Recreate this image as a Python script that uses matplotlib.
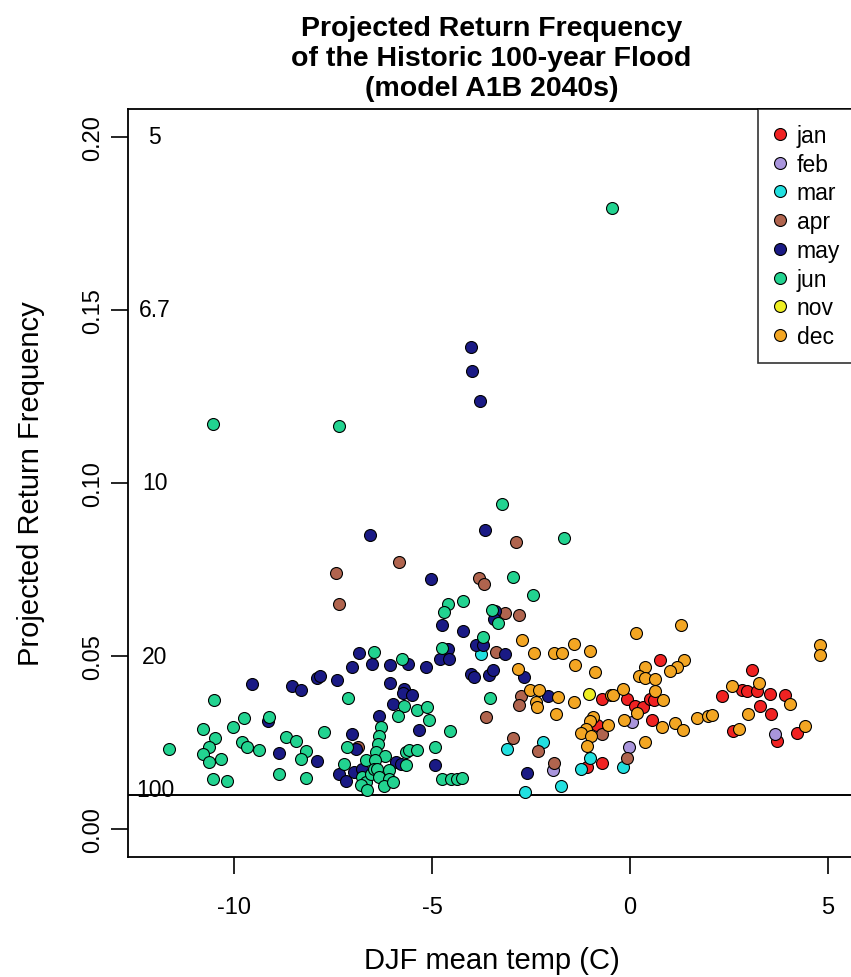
import matplotlib
matplotlib.use("Agg")
import matplotlib.pyplot as plt
from matplotlib.lines import Line2D

plt.rcParams['font.family'] = ['Liberation Sans', 'DejaVu Sans']

# DJF mean temperature (C) and projected return frequency, grouped by month of peak flow
jan_x = [0.76, -0.71, -0.07, 0.12, 0.33, 0.50, 0.61, 0.56, -0.83, -1.09, -0.71,
         2.31, 2.82, 2.94, 3.20, 3.09, 3.53, 3.91, 3.28, 3.56, 2.61, 3.70, 4.21]
jan_y = [0.0490, 0.0376, 0.0376, 0.0355, 0.0353, 0.0377, 0.0372, 0.0317, 0.0302, 0.0180, 0.0191,
         0.0384, 0.0401, 0.0399, 0.0399, 0.0460, 0.0391, 0.0388, 0.0355, 0.0334, 0.0283, 0.0254, 0.0279]

feb_x = [0.06, -0.03, -1.95, 3.66]
feb_y = [0.0311, 0.0239, 0.0172, 0.0276]

mar_x = [-3.76, -3.12, -2.21, -2.65, -1.74, -1.25, -1.00, -0.19]
mar_y = [0.0505, 0.0231, 0.0252, 0.0108, 0.0125, 0.0175, 0.0206, 0.0179]

apr_x = [-7.42, -7.35, -5.83, -2.88, -3.81, -3.68, -3.15, -2.81, -3.39, -2.75,
         -2.81, -3.64, -2.95, -2.33, -1.91, -0.07, -0.70, -6.86]
apr_y = [0.0741, 0.0651, 0.0771, 0.0831, 0.0726, 0.0709, 0.0624, 0.0618, 0.0512, 0.0384,
         0.0358, 0.0324, 0.0264, 0.0226, 0.0191, 0.0206, 0.0274, 0.0239]

may_x = [-4.02, -3.98, -3.79, -6.57, -3.66, -5.03, -3.40, -3.43, -4.76, -4.23,
         -3.90, -3.71, -4.61, -3.15, -4.80, -4.57, -4.01, -3.93, -3.57, -3.47,
         -2.69, -2.07, -6.85, -7.02, -6.52, -6.07, -5.60, -5.16, -9.55, -8.55,
         -8.31, -7.90, -7.84, -7.39, -6.06, -5.71, -5.73, -5.51, -6.00, -6.34,
         -9.15, -7.02, -6.93, -5.33, -8.87, -7.90, -4.92, -5.92, -5.79, -7.35,
         -7.18, -6.97, -6.76, -2.61]
may_y = [0.1394, 0.1324, 0.1236, 0.0850, 0.0864, 0.0723, 0.0630, 0.0608, 0.0589, 0.0574,
         0.0531, 0.0531, 0.0521, 0.0507, 0.0492, 0.0492, 0.0449, 0.0439, 0.0447, 0.0459,
         0.0439, 0.0384, 0.0509, 0.0470, 0.0478, 0.0473, 0.0478, 0.0468, 0.0420, 0.0415,
         0.0403, 0.0437, 0.0444, 0.0430, 0.0422, 0.0406, 0.0393, 0.0389, 0.0361, 0.0326,
         0.0312, 0.0276, 0.0233, 0.0288, 0.0220, 0.0197, 0.0186, 0.0194, 0.0189, 0.0160,
         0.0139, 0.0165, 0.0175, 0.0162]

jun_x = [-0.45, -10.53, -7.35, -3.23, -1.68, -2.96, -2.44, -4.61, -4.69, -4.23,
         -3.49, -3.34, -3.72, -4.75, -6.48, -5.77, -3.55, -7.12, -5.71, -5.87,
         -5.37, -5.12, -5.09, -10.52, -9.11, -9.76, -10.02, -10.79, -10.49, -10.64,
         -10.79, -10.64, -11.64, -9.80, -9.67, -9.38, -10.34, -10.53, -10.17, -8.69,
         -8.43, -7.73, -8.18, -8.31, -8.87, -8.18, -6.30, -6.34, -6.36, -6.41,
         -7.14, -4.55, -4.92, -5.66, -5.58, -5.37, -6.19, -7.23, -6.68, -6.43,
         -5.66, -6.76, -6.68, -6.80, -6.64, -6.55, -6.47, -6.38, -6.34, -6.10,
         -6.09, -6.21, -6.00, -4.74, -4.52, -4.36, -4.25]
jun_y = [0.1793, 0.1170, 0.1164, 0.0938, 0.0840, 0.0730, 0.0676, 0.0651, 0.0627, 0.0659,
         0.0634, 0.0596, 0.0555, 0.0523, 0.0511, 0.0492, 0.0380, 0.0380, 0.0355, 0.0328,
         0.0344, 0.0353, 0.0315, 0.0372, 0.0324, 0.0322, 0.0295, 0.0289, 0.0264, 0.0237,
         0.0218, 0.0194, 0.0233, 0.0252, 0.0237, 0.0230, 0.0203, 0.0145, 0.0139, 0.0266,
         0.0255, 0.0281, 0.0226, 0.0204, 0.0160, 0.0147, 0.0295, 0.0268, 0.0245, 0.0223,
         0.0239, 0.0284, 0.0239, 0.0223, 0.0228, 0.0228, 0.0211, 0.0189, 0.0199, 0.0199,
         0.0185, 0.0151, 0.0136, 0.0127, 0.0113, 0.0160, 0.0175, 0.0175, 0.0151, 0.0172,
         0.0146, 0.0124, 0.0136, 0.0146, 0.0146, 0.0146, 0.0147]

nov_x = [-1.05]
nov_y = [0.0390]

dec_x = [-2.73, -2.43, -1.93, -1.71, -1.42, -1.02, -1.38, -0.88, 0.16, 1.28,
         1.36, 1.19, 1.00, 0.37, 0.23, 0.37, 0.64, -2.83, -2.52, -2.31,
         -1.81, -2.37, -2.36, -1.88, -1.42, -0.47, -0.42, -0.19, 0.63, 0.83,
         0.17, -0.15, 0.80, 1.13, 1.34, -0.94, -1.02, -1.11, -1.23, -0.98,
         -0.57, -1.10, 0.37, 1.70, 1.97, 2.06, 2.58, 3.26, 4.04, 2.98,
         2.75, 4.42, 4.80, 4.80]
dec_y = [0.0546, 0.0510, 0.0510, 0.0510, 0.0534, 0.0516, 0.0474, 0.0455, 0.0566, 0.0590,
         0.0490, 0.0470, 0.0456, 0.0468, 0.0444, 0.0438, 0.0435, 0.0463, 0.0401, 0.0401,
         0.0382, 0.0367, 0.0353, 0.0334, 0.0369, 0.0387, 0.0387, 0.0406, 0.0398, 0.0372,
         0.0337, 0.0317, 0.0295, 0.0308, 0.0286, 0.0324, 0.0314, 0.0289, 0.0279, 0.0270,
         0.0302, 0.0240, 0.0252, 0.0321, 0.0326, 0.0329, 0.0415, 0.0422, 0.0362, 0.0334,
         0.0290, 0.0298, 0.0531, 0.0502]

months = ["jan", "feb", "mar", "apr", "may", "jun", "nov", "dec"]
month_x = [jan_x, feb_x, mar_x, apr_x, may_x, jun_x, nov_x, dec_x]
month_y = [jan_y, feb_y, mar_y, apr_y, may_y, jun_y, nov_y, dec_y]
month_colors = ["#F02222", "#A995DC", "#22E0E0", "#B0644E",
                "#1A1A85", "#22D390", "#EEEE22", "#F3A623"]

# Return-period annotations (years) and the historic 100-year threshold
period_labels = ["5", "6.7", "10", "20", "100"]
period_freq = [0.20, 0.15, 0.10, 0.05, 0.0116]
threshold = 0.01

x_ticks = [-10, -5, 0, 5]
y_ticks = [0.00, 0.05, 0.10, 0.15, 0.20]
y_ticklabels = ["0.00", "0.05", "0.10", "0.15", "0.20"]

fig = plt.figure(figsize=(8.51, 9.78), dpi=100)
W, H = 851, 978
ax = fig.add_axes([128 / W, (H - 858) / H, (855 - 128) / W, (858 - 110) / H])

for mx, my, col in zip(month_x, month_y, month_colors):
    ax.scatter(mx, my, s=74, c=col, edgecolors="black", linewidths=0.8, zorder=3)

ax.axhline(threshold, color="black", lw=1.4, zorder=2)

for lab, fy in zip(period_labels, period_freq):
    ax.text(-12, fy, lab, ha="center", va="center", fontsize=16.5)

ax.set_xlim(-12.68, 5.68)
ax.set_ylim(-0.008, 0.208)
ax.set_xticks(x_ticks)
ax.set_xticklabels([str(v) for v in x_ticks])
ax.set_yticks(y_ticks)
ax.set_yticklabels(y_ticklabels, rotation=90, va="center")
ax.tick_params(axis="both", direction="out", length=12, width=1.2, labelsize=17)
ax.tick_params(axis="x", pad=16)
ax.tick_params(axis="y", pad=5)

for sp in ax.spines.values():
    sp.set_linewidth(1.3)

ax.set_xlabel("DJF mean temp (C)", fontsize=21)
ax.set_ylabel("Projected Return Frequency", fontsize=21)
ax.xaxis.set_label_coords(0.5, (858 - 961) / 748)
ax.xaxis.label.set_va("center")
ax.yaxis.set_label_coords((31 - 128) / 727, 0.5)
ax.yaxis.label.set_va("center")

ax.set_title("Projected Return Frequency\nof the Historic 100-year Flood\n(model A1B 2040s)",
             fontsize=20.5, fontweight="bold", linespacing=1.2, pad=10)

handles = [Line2D([], [], ls="none", marker="o", markersize=8.6, markerfacecolor=c,
                  markeredgecolor="black", markeredgewidth=0.8) for c in month_colors]
leg = ax.legend(handles, months, loc="upper right", fontsize=16.5, frameon=True,
                fancybox=False, borderaxespad=0, handlelength=0.6, handletextpad=0.45,
                labelspacing=0.25, borderpad=0.65)
leg.get_frame().set_edgecolor("black")
leg.get_frame().set_linewidth(1.2)

fig.savefig("out.png", dpi=100, facecolor="white")
